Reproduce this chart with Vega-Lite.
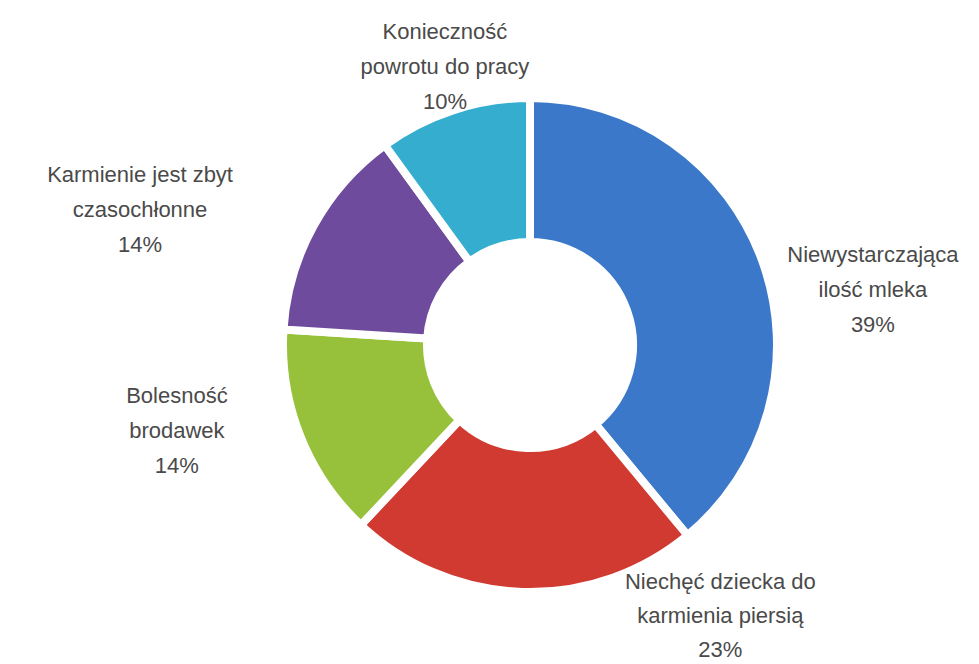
{
  "$schema": "https://vega.github.io/schema/vega-lite/v6.json",
  "autosize": {"type": "none"},
  "padding": {"left": 81, "top": 26, "right": 0, "bottom": 0},
  "width": 898,
  "height": 638,
  "background": "white",
  "view": {"stroke": null},
  "data": {
    "values": [
      {"category": "Niewystarczająca ilość mleka", "value": 39, "label": "Niewystarczająca\nilość mleka\n39%"},
      {"category": "Niechęć dziecka do karmienia piersią", "value": 23, "label": "Niechęć dziecka do\nkarmienia piersią\n23%"},
      {"category": "Bolesność brodawek", "value": 14, "label": "Bolesność\nbrodawek\n14%"},
      {"category": "Karmienie jest zbyt czasochłonne", "value": 14, "label": "Karmienie jest zbyt\nczasochłonne\n14%"},
      {"category": "Konieczność powrotu do pracy", "value": 10, "label": "Konieczność\npowrotu do pracy\n10%"}
    ]
  },
  "transform": [
    {"stack": "value", "groupby": [], "as": ["v0", "v1"]},
    {"calculate": "(datum.v0 + datum.v1) / 2", "as": "mid"}
  ],
  "layer": [
    {
      "mark": {"type": "arc", "outerRadius": 247, "innerRadius": 103, "stroke": "white", "strokeWidth": 8},
      "encoding": {
        "theta": {"field": "v0", "type": "quantitative", "scale": {"domain": [0, 100], "range": [0, 6.283185307]}},
        "theta2": {"field": "v1"},
        "color": {
          "field": "category",
          "type": "nominal",
          "legend": null,
          "scale": {
            "domain": ["Niewystarczająca ilość mleka", "Niechęć dziecka do karmienia piersią", "Bolesność brodawek", "Karmienie jest zbyt czasochłonne", "Konieczność powrotu do pracy"],
            "range": ["#3b78c9", "#d03a31", "#97c13b", "#6f4b9d", "#34adcf"]
          }
        }
      }
    },
    {
      "transform": [{"filter": "datum.category == 'Niewystarczająca ilość mleka'"}],
      "mark": {"type": "text", "radius": 340, "dx": 23, "dy": 25, "align": "center", "baseline": "middle", "lineBreak": "\n", "font": "Liberation Sans", "fontSize": 22, "lineHeight": 35, "color": "#4a4a4a"},
      "encoding": {"theta": {"field": "mid", "type": "quantitative"}, "text": {"field": "label"}}
    },
    {
      "transform": [{"filter": "datum.category == 'Niechęć dziecka do karmienia piersią'"}],
      "mark": {"type": "text", "radius": 340, "dx": 201, "dy": -103, "align": "center", "baseline": "middle", "lineBreak": "\n", "font": "Liberation Sans", "fontSize": 22, "lineHeight": 34, "color": "#4a4a4a"},
      "encoding": {"theta": {"field": "mid", "type": "quantitative"}, "text": {"field": "label"}}
    },
    {
      "transform": [{"filter": "datum.category == 'Bolesność brodawek'"}],
      "mark": {"type": "text", "radius": 340, "dx": -37, "dy": -74, "align": "center", "baseline": "middle", "lineBreak": "\n", "font": "Liberation Sans", "fontSize": 22, "lineHeight": 35, "color": "#4a4a4a"},
      "encoding": {"theta": {"field": "mid", "type": "quantitative"}, "text": {"field": "label"}}
    },
    {
      "transform": [{"filter": "datum.category == 'Karmienie jest zbyt czasochłonne'"}],
      "mark": {"type": "text", "radius": 340, "dx": -92, "dy": -6, "align": "center", "baseline": "middle", "lineBreak": "\n", "font": "Liberation Sans", "fontSize": 22, "lineHeight": 35, "color": "#4a4a4a"},
      "encoding": {"theta": {"field": "mid", "type": "quantitative"}, "text": {"field": "label"}}
    },
    {
      "transform": [{"filter": "datum.category == 'Konieczność powrotu do pracy'"}],
      "mark": {"type": "text", "radius": 340, "dx": 20, "dy": 10, "align": "center", "baseline": "middle", "lineBreak": "\n", "font": "Liberation Sans", "fontSize": 22, "lineHeight": 35, "color": "#4a4a4a"},
      "encoding": {"theta": {"field": "mid", "type": "quantitative"}, "text": {"field": "label"}}
    }
  ]
}
